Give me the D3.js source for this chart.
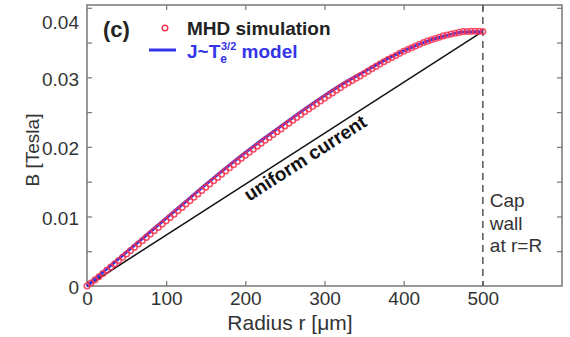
<!DOCTYPE html>
<html>
<head>
<meta charset="utf-8">
<script src="https://cdn.jsdelivr.net/npm/d3@7"></script>
<style>
  body { margin: 0; background: #fff; }
  svg { font-family: "Liberation Sans", Arial, sans-serif; }
</style>
</head>
<body>
<svg id="chart" width="570" height="337"></svg>
<script>
// model curve J ~ Te^(3/2), B in Tesla vs radius in um
const modelR = [0, 25, 50, 75, 100, 125, 150, 175, 200, 225, 250, 275, 300, 325, 350, 375, 400, 425, 450, 475, 500]
const modelB = [0, 0.00245, 0.0049, 0.00733, 0.00975, 0.01218, 0.0146, 0.01695, 0.0192, 0.02135, 0.0234,
  0.02545, 0.0274, 0.0292, 0.0308, 0.0324, 0.0338, 0.035, 0.0359, 0.0365, 0.0366]

// MHD simulation samples, every 5 um from 0 to 500
const simStep = 5
const simB = [
  0, 0.00044, 0.00088, 0.00134, 0.0018, 0.00225, 0.00272, 0.00319, 0.00366, 0.00413,
  0.0046, 0.00509, 0.00557, 0.00604, 0.00651, 0.00699, 0.00746, 0.00795, 0.00842, 0.0089,
  0.00937, 0.00986, 0.01033, 0.01082, 0.01129, 0.01178, 0.01226, 0.01275, 0.01323, 0.01372,
  0.0142, 0.01467, 0.01514, 0.01561, 0.01608, 0.01655, 0.017, 0.01745, 0.0179, 0.01835,
  0.0188, 0.01923, 0.01966, 0.02009, 0.02052, 0.02095, 0.02136, 0.02177, 0.02218, 0.02259,
  0.023, 0.02341, 0.02382, 0.02423, 0.02464, 0.02505, 0.02544, 0.02583, 0.02622, 0.02661,
  0.027, 0.02738, 0.02776, 0.02814, 0.02852, 0.0289, 0.02922, 0.02955, 0.02988, 0.03021,
  0.03055, 0.03089, 0.03123, 0.03157, 0.03191, 0.03225, 0.03255, 0.03285, 0.03315, 0.03345,
  0.03375, 0.034, 0.03425, 0.0345, 0.03475, 0.035, 0.0352, 0.03539, 0.03558, 0.03577,
  0.03596, 0.03609, 0.03622, 0.03634, 0.03646, 0.03658, 0.0366, 0.03661, 0.03662, 0.03662,
  0.0366
]

// uniform current: straight line from the axis to the wall
const uniformR = [0, 500]
const uniformB = [0, 0.0366]

const wallR = 500
const xTicks = [0, 100, 200, 300, 400, 500]
const yTicks = [0, 0.005, 0.01, 0.015, 0.02, 0.025, 0.03, 0.035, 0.04]
const yLabels = ['0', '', '0.01', '', '0.02', '', '0.03', '', '0.04']
const capText = ['Cap', 'wall', 'at r=R']

const svg = d3.select('#chart')
const plotL = 87, plotR = 562, plotT = 5, plotB = 286

const x = d3.scaleLinear().domain([0, 600]).range([plotL, plotR])
const y = d3.scaleLinear().domain([0, 0.0404]).range([plotB, plotT])

const axisColor = '#777'
const textColor = '#333'
const red = '#f5304f'
const blue = '#3434e8'

function styleAxis(g) {
  g.select('.domain').remove()
  g.selectAll('line').attr('stroke', axisColor).attr('stroke-width', 1.2)
  g.selectAll('text').attr('fill', textColor).attr('font-size', 19)
}

// axes with inward ticks
svg.append('g')
  .attr('transform', `translate(0,${plotB})`)
  .call(d3.axisBottom(x).tickValues(xTicks).tickSize(-5).tickPadding(6).tickFormat(d3.format('d')))
  .call(styleAxis)

svg.append('g')
  .attr('transform', `translate(0,${plotT})`)
  .call(d3.axisTop(x).tickValues(xTicks.slice(1)).tickSize(-5).tickFormat(''))
  .call(styleAxis)

const yAxisG = svg.append('g')
  .attr('transform', `translate(${plotL},0)`)
  .call(d3.axisLeft(y).tickValues(yTicks).tickSize(-5).tickPadding(8).tickFormat((d, i) => yLabels[i]))
  .call(styleAxis)
// the top label sits below its tick in the original so it stays inside the frame
yAxisG.selectAll('.tick text')
  .attr('dy', d => d >= 0.04 ? '1.1em' : '0.42em')

svg.append('g')
  .attr('transform', `translate(${plotR},0)`)
  .call(d3.axisRight(y).tickValues(yTicks.slice(1)).tickSize(-5).tickFormat(''))
  .call(styleAxis)

svg.append('rect')
  .attr('x', plotL).attr('y', plotT)
  .attr('width', plotR - plotL).attr('height', plotB - plotT)
  .attr('fill', 'none').attr('stroke', axisColor).attr('stroke-width', 1.5)

// axis titles
svg.append('text')
  .attr('x', 290).attr('y', 330)
  .attr('text-anchor', 'middle')
  .attr('font-size', 21).attr('fill', textColor)
  .text('Radius r [μm]')

svg.append('text')
  .attr('transform', 'translate(39,150) rotate(-90)')
  .attr('text-anchor', 'middle')
  .attr('font-size', 19).attr('fill', textColor)
  .text('B [Tesla]')

// wall marker
svg.append('line')
  .attr('x1', x(wallR)).attr('x2', x(wallR))
  .attr('y1', plotT).attr('y2', plotB)
  .attr('stroke', '#555').attr('stroke-width', 1.5)
  .attr('stroke-dasharray', '7,5')

svg.append('g')
  .selectAll('text')
  .data(capText)
  .enter().append('text')
  .attr('x', x(wallR) + 7)
  .attr('y', (d, i) => 207 + i * 22.5)
  .attr('font-size', 19).attr('fill', textColor)
  .text(d => d)

// uniform current line
const uniform = uniformR.map((r, i) => [r, uniformB[i]])
svg.append('path')
  .datum(uniform)
  .attr('fill', 'none')
  .attr('stroke', '#111').attr('stroke-width', 1.5)
  .attr('d', d3.line().x(d => x(d[0])).y(d => y(d[1])))

const ang = Math.atan2(y(uniformB[1]) - y(0), x(uniformR[1]) - x(0)) * 180 / Math.PI
svg.append('text')
  .attr('transform', `translate(${x(280)},${y(0.0199) + 16}) rotate(${ang})`)
  .attr('text-anchor', 'middle')
  .attr('font-size', 19).attr('font-weight', 'bold').attr('fill', '#111')
  .text('uniform current')

// model line
const model = modelR.map((r, i) => [r, modelB[i]])
svg.append('path')
  .datum(model)
  .attr('fill', 'none')
  .attr('stroke', blue).attr('stroke-width', 3)
  .attr('d', d3.line().curve(d3.curveMonotoneX).x(d => x(d[0])).y(d => y(d[1])))

// simulation circles
svg.append('g')
  .selectAll('circle')
  .data(simB)
  .enter().append('circle')
  .attr('cx', (d, i) => x(i * simStep))
  .attr('cy', d => y(d))
  .attr('r', 2.8)
  .attr('fill', 'none')
  .attr('stroke', red).attr('stroke-width', 1.5)
  .attr('stroke-opacity', 0.85)

// panel label and legend
svg.append('text')
  .attr('x', 103).attr('y', 37)
  .attr('font-size', 22).attr('font-weight', 'bold').attr('fill', '#222')
  .text('(c)')

svg.append('circle')
  .attr('cx', 165).attr('cy', 28).attr('r', 2.8)
  .attr('fill', 'none').attr('stroke', red).attr('stroke-width', 1.4)

svg.append('text')
  .attr('x', 187).attr('y', 35)
  .attr('font-size', 19).attr('font-weight', 'bold').attr('fill', '#222')
  .text('MHD simulation')

svg.append('line')
  .attr('x1', 149).attr('x2', 176).attr('y1', 50).attr('y2', 50)
  .attr('stroke', blue).attr('stroke-width', 3)

const jt = svg.append('text')
  .attr('x', 187).attr('y', 58)
  .attr('font-size', 19).attr('font-weight', 'bold').attr('fill', blue)
jt.append('tspan').text('J~T')
jt.append('tspan').attr('dy', 5).attr('font-size', 12).text('e')
jt.append('tspan').attr('dx', -6).attr('dy', -13).attr('font-size', 11).text('3/2')
jt.append('tspan').attr('dy', 8).text(' model')
</script>
</body>
</html>
